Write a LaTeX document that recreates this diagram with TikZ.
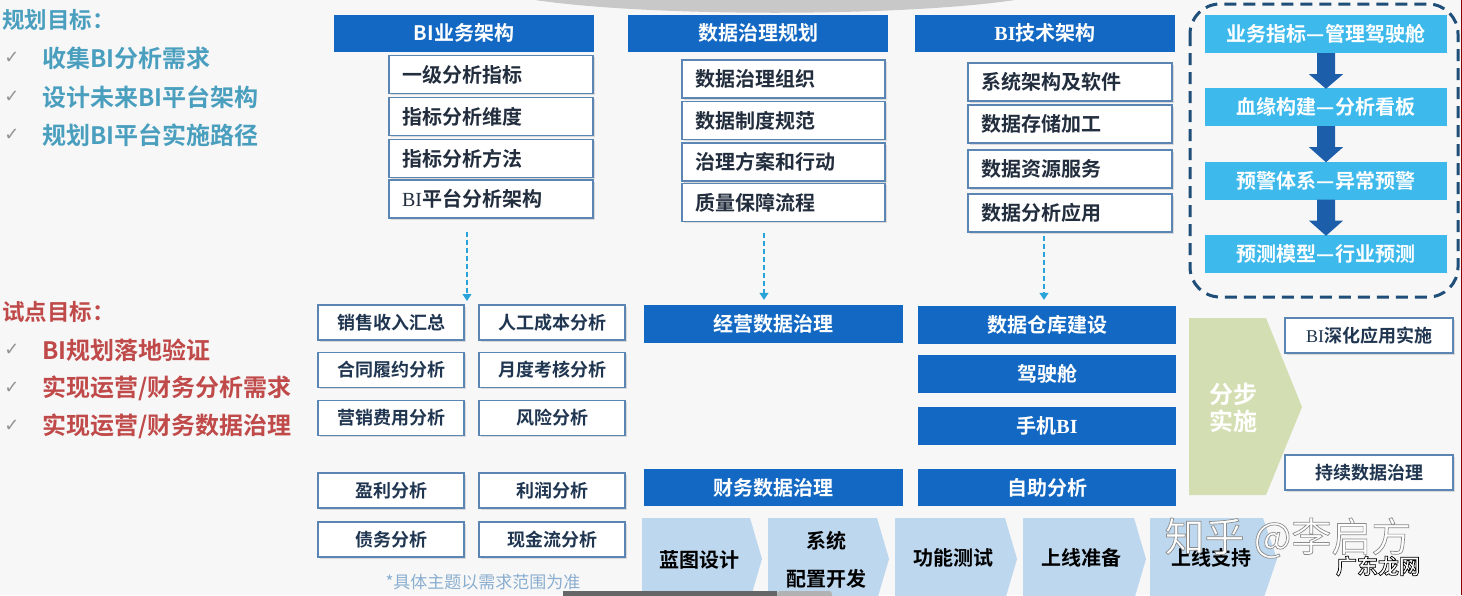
\documentclass[tikz,border=0pt]{standalone}
\usepackage{fontspec}
\setmainfont{Noto Sans CJK SC}[BoldFont={Noto Sans CJK SC Bold}]
\newfontfamily\serifbi{Liberation Serif}
\newfontfamily\symfont{DejaVu Sans}
\usetikzlibrary{arrows.meta,shadows,calc}
\definecolor{bgc}{HTML}{F7F7F7}
\definecolor{hdrblue}{HTML}{1268C2}
\definecolor{subborder}{HTML}{5B86B3}
\definecolor{subtext}{HTML}{222D3D}
\definecolor{gridtext}{HTML}{1F3550}
\definecolor{skyblue}{HTML}{3DB9EC}
\definecolor{arrowblue}{HTML}{1D5EAB}
\definecolor{navydash}{HTML}{1F4E79}
\definecolor{flowteal}{HTML}{2AA3D8}
\definecolor{chevblue}{HTML}{BDD7EE}
\definecolor{stepgreen}{HTML}{D3DFB2}
\definecolor{tealc}{HTML}{4A9FBF}
\definecolor{redc}{HTML}{C04A4A}
\definecolor{notec}{HTML}{8AAED0}
\definecolor{topgray}{HTML}{C8C8C8}
\newcommand\otext[2]{\special{pdf:literal direct 2 Tr 0.7 w #1 RG 1 1 1 rg}#2\special{pdf:literal direct 0 Tr}}
\begin{document}
\begin{tikzpicture}[x=1pt,y=-1pt,
  hdr/.style={fill=hdrblue, text=white, font=\fontsize{20}{24}\selectfont\bfseries, inner sep=0pt, minimum width=260pt, minimum height=37pt},
  subbox/.style={draw=subborder, line width=1.3pt, fill=white, text=subtext, font=\fontsize{20}{24}\selectfont\bfseries, inner xsep=13pt, inner ysep=0pt, minimum height=38pt, align=left, text width=178pt,
     drop shadow={shadow xshift=1.5pt, shadow yshift=-1.5pt, opacity=0.25}},
  gridbox/.style={draw=subborder, line width=1.3pt, fill=white, text=gridtext, font=\fontsize{18}{22}\selectfont\bfseries, minimum width=146pt, minimum height=35pt, inner sep=0pt,
     drop shadow={shadow xshift=1.5pt, shadow yshift=-1.5pt, opacity=0.25}},
  bar/.style={fill=hdrblue, text=white, font=\fontsize{20}{24}\selectfont\bfseries, inner sep=0pt, minimum height=38pt},
  lbbox/.style={fill=skyblue, text=white, font=\fontsize{20}{24}\selectfont\bfseries, minimum width=242pt, minimum height=38pt, inner sep=0pt},
  chevtext/.style={text=black, font=\fontsize{20}{38}\selectfont\bfseries, align=center, inner sep=0pt},
  goaltitle/.style={anchor=west, inner sep=0pt, font=\fontsize{22.5}{26}\selectfont\bfseries},
  goalitem/.style={anchor=west, inner sep=0pt, font=\fontsize{24}{28}\selectfont\bfseries},
  chk/.style={inner sep=0pt, text=gray!85, font=\symfont\fontsize{18}{20}\selectfont},
  flowdash/.style={draw=flowteal, line width=1.1pt, dash pattern=on 5pt off 3pt, -{Triangle[width=9pt,length=7pt]}},
  barrow/.style={fill=arrowblue},
  sidebox/.style={draw=subborder, line width=1.3pt, fill=white, text=gridtext, font=\fontsize{18}{22}\selectfont\bfseries, minimum width=168pt, minimum height=35pt, inner sep=0pt,
     drop shadow={shadow xshift=1.5pt, shadow yshift=-1.5pt, opacity=0.25}},
]
\useasboundingbox (0,0) rectangle (1462,595);
\fill[bgc] (0,0) rectangle (1462,595);
% top arc
\fill[topgray] (535,0) .. controls (650,17) and (900,17) .. (1015,0) -- cycle;
% right edge line
\draw[red!55!black, line width=1pt] (1461,0) -- (1461,595);

% ---------- left goals ----------
\node[goaltitle, text=tealc] (g0) at (2,20) {规划目标：};
\node[chk] (k1) at (12,58) {✓};
\node[goalitem, text=tealc] (g1) at (42,58) {收集BI分析需求};
\node[chk] (k2) at (12,97) {✓};
\node[goalitem, text=tealc] (g2) at (42,97) {设计未来BI平台架构};
\node[chk] (k3) at (12,135) {✓};
\node[goalitem, text=tealc] (g3) at (42,135) {规划BI平台实施路径};

\node[goaltitle, text=redc] (s0) at (2,312) {试点目标：};
\node[chk] (k4) at (12,350) {✓};
\node[goalitem, text=redc] (s1) at (42,350) {BI规划落地验证};
\node[chk] (k5) at (12,388) {✓};
\node[goalitem, text=redc] (s2) at (42,388) {实现运营/财务分析需求};
\node[chk] (k6) at (12,426) {✓};
\node[goalitem, text=redc] (s3) at (42,426) {实现运营/财务数据治理};

% ---------- column 1 ----------
\node[hdr] (h1) at (464,33) {BI业务架构};
\node[subbox] (b11) at (491,74.5) {一级分析指标};
\node[subbox] (b12) at (491,116.5) {指标分析维度};
\node[subbox] (b13) at (491,158.5) {指标分析方法};
\node[subbox] (b14) at (491,199) {{\serifbi\mdseries BI}平台分析架构};

% ---------- column 2 ----------
\node[hdr] (h2) at (758,33) {数据治理规划};
\node[subbox, text width=177pt] (b21) at (783.5,79) {数据治理组织};
\node[subbox, text width=177pt] (b22) at (783.5,120.5) {数据制度规范};
\node[subbox, text width=177pt] (b23) at (783.5,162) {治理方案和行动};
\node[subbox, text width=177pt] (b24) at (783.5,202.5) {质量保障流程};

% ---------- column 3 ----------
\node[hdr] (h3) at (1045,33) {{\serifbi BI}技术架构};
\node[subbox] (b31) at (1070,82) {系统架构及软件};
\node[subbox] (b32) at (1070,124) {数据存储加工};
\node[subbox] (b33) at (1070,169) {数据资源服务};
\node[subbox] (b34) at (1070,213) {数据分析应用};

% ---------- left grid ----------
\node[gridbox] (q11) at (391,322.5) {销售收入汇总};
\node[gridbox] (q12) at (552,322.5) {人工成本分析};
\node[gridbox] (q21) at (391,370) {合同履约分析};
\node[gridbox] (q22) at (552,370) {月度考核分析};
\node[gridbox] (q31) at (391,418) {营销费用分析};
\node[gridbox] (q32) at (552,418) {风险分析};
\node[gridbox] (q41) at (391,490.5) {盈利分析};
\node[gridbox] (q42) at (552,490.5) {利润分析};
\node[gridbox] (q51) at (391,539.5) {债务分析};
\node[gridbox] (q52) at (552,539.5) {现金流分析};
\node[text=notec, font=\fontsize{17}{20}\selectfont, inner sep=0pt] (note) at (483,582) {*具体主题以需求范围为准};

% ---------- middle bars ----------
\node[bar, minimum width=259pt] (m1) at (773.5,324) {经营数据治理};
\node[bar, minimum width=259pt, minimum height=37pt] (m2) at (773.5,487.5) {财务数据治理};
\node[bar, minimum width=258pt] (t1) at (1047,325) {数据仓库建设};
\node[bar, minimum width=258pt] (t2) at (1047,374) {驾驶舱};
\node[bar, minimum width=258pt] (t3) at (1047,426) {手机{\serifbi\bfseries BI}};
\node[bar, minimum width=258pt, minimum height=37pt] (t4) at (1047,487.5) {自助分析};

% ---------- dashed arrows ----------
\coordinate (d1a) at (467,232);
\coordinate (d1b) at (467,301);
\draw[flowdash] (d1a) -- (d1b);
\coordinate (d2a) at (764,233);
\draw[flowdash, shorten >=5pt] (d2a) -- (d2a |- m1.north);
\coordinate (d3a) at (1044,236);
\draw[flowdash, shorten >=6pt] (d3a) -- (d3a |- t1.north);

% ---------- right dashed panel ----------
\draw[navydash, line width=3pt, dash pattern=on 12pt off 7pt, rounded corners=30pt] (1190,4) rectangle (1458,297);
\node[lbbox] (r1) at (1326,34) {业务指标—管理驾驶舱};
\node[lbbox] (r2) at (1326,107) {血缘构建—分析看板};
\node[lbbox] (r3) at (1326,180.5) {预警体系—异常预警};
\node[lbbox] (r4) at (1326,254) {预测模型—行业预测};
\foreach \a/\b in {r1/r2,r2/r3,r3/r4}{
  \fill[barrow] ($(\a.south)+(-9,0)$) -- ($(\a.south)+(9,0)$) -- ($(\a.south)+(9,21)$) -- ($(\a.south)+(17,21)$)
     -- ($(\b.north)+(0,1)$) -- ($(\a.south)+(-17,21)$) -- ($(\a.south)+(-9,21)$) -- cycle;
}

% ---------- step chevron ----------
\fill[stepgreen] (1189,318) -- (1266,318) -- (1302,407) -- (1266,495) -- (1189,495) -- cycle;
\node[text=white, font=\fontsize{24}{27}\selectfont\bfseries, align=center, inner sep=0pt] (stp) at (1233,408) {分步\\实施};
\node[sidebox] (sb1) at (1369,335.5) {{\serifbi\mdseries BI}深化应用实施};
\node[sidebox] (sb2) at (1369,472.5) {持续数据治理};

% ---------- bottom process chevrons ----------
\fill[chevblue] (642,518) -- (750,518) -- (762,559) -- (750,600) -- (642,600) -- cycle;
\fill[chevblue] (768,518) -- (877,518) -- (889,559) -- (877,600) -- (768,600) -- cycle;
\fill[chevblue] (895,518) -- (1005,518) -- (1017,559) -- (1005,600) -- (895,600) -- cycle;
\fill[chevblue] (1023,518) -- (1134,518) -- (1146,559) -- (1134,600) -- (1023,600) -- cycle;
\fill[chevblue] (1150,518) -- (1263,518) -- (1277,559) -- (1263,600) -- (1150,600) -- cycle;
\node[chevtext] (p1) at (699,560) {蓝图设计};
\node[chevtext] (p2) at (826,560) {系统\\配置开发};
\node[chevtext] (p3) at (953,558) {功能测试};
\node[chevtext] (p4) at (1081,558) {上线准备};
\node[chevtext] (p5) at (1211,558) {上线支持};

% bottom artifact bar
\fill[black!60] (563,591) rectangle (777,598);
\fill[black!30, rounded corners=3pt] (777,591) rectangle (832,598);

% ---------- watermarks ----------
\node[inner sep=0pt, text=black!45, font=\fontsize{40}{44}\selectfont] (wm1) at (1288,538) {\otext{0.55 0.55 0.55}{知乎 @李启方}};
\node[inner sep=0pt, text=black, font=\fontsize{21}{24}\selectfont\bfseries] (wm2) at (1378,566) {\otext{0 0 0}{广东龙网}};
\end{tikzpicture}
\end{document}
